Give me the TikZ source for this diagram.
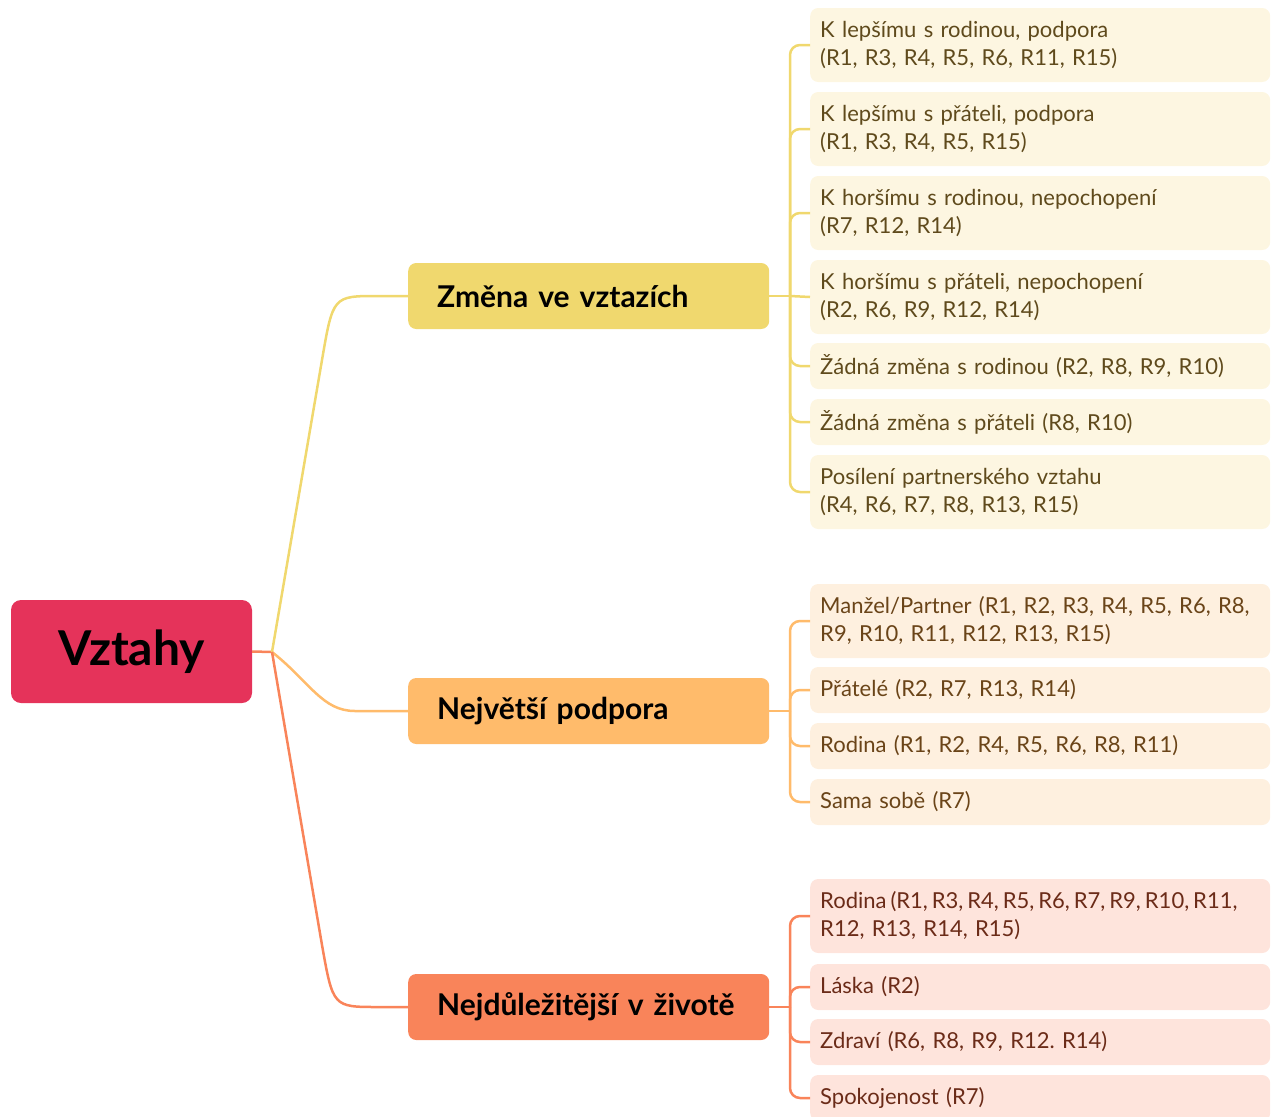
\documentclass[tikz,border=0pt]{standalone}
\usepackage{fontspec}
\setmainfont{Lato}
\frenchspacing
\definecolor{rootfill}{HTML}{E5335A}
\definecolor{yel}{HTML}{F0D86E}
\definecolor{yelleaf}{HTML}{FDF6E1}
\definecolor{yeltext}{HTML}{5F4A1C}
\definecolor{ora}{HTML}{FFBB6B}
\definecolor{oraleaf}{HTML}{FEF0DF}
\definecolor{oratext}{HTML}{6A4418}
\definecolor{redc}{HTML}{F9845A}
\definecolor{redleaf}{HTML}{FEE4DC}
\definecolor{redtext}{HTML}{6B2B18}
\begin{document}
\begin{tikzpicture}[x=1pt,y=-1pt,
  rootbox/.style={fill=rootfill, rounded corners=10pt, minimum width=241pt, minimum height=103pt,
    inner sep=0pt, font=\fontsize{48}{54}\selectfont\bfseries},
  topic/.style={anchor=west, rounded corners=8pt, text width=303pt, inner xsep=29pt, inner ysep=0pt,
    minimum height=66pt, align=left, font=\fontsize{30}{34}\selectfont\bfseries},
  leaf/.style={anchor=west, rounded corners=8pt, text width=440pt, inner xsep=10pt, inner ysep=0pt,
    align=left, font=\fontsize{22}{28}\selectfont},
  tall/.style={minimum height=74pt},
  short/.style={minimum height=46pt},
  leafA/.style={leaf, fill=yelleaf, text=yeltext},
  leafB/.style={leaf, fill=oraleaf, text=oratext},
  leafC/.style={leaf, fill=redleaf, text=redtext},
  conn/.style={line width=2.5pt},
  branch/.style={conn, rounded corners=10pt}
]
\useasboundingbox (0,0) rectangle (1278,1117);

% root and topics
\node[rootbox] (root) at (131.5,651.5) {Vztahy};
\node[topic, fill=yel] (t1) at (408,296) {Změna ve vztazích};
\node[topic, fill=ora] (t2) at (408,711) {Největší podpora};
\node[topic, fill=redc] (t3) at (408,1007) {Nejdůležitější v životě};

% leaves of the first topic
\node[leafA, tall]  (a1) at (810,45)  {K lepšímu s rodinou, podpora\\(R1, R3, R4, R5, R6, R11, R15)};
\node[leafA, tall]  (a2) at (810,129) {K lepšímu s přáteli, podpora\\(R1, R3, R4, R5, R15)};
\node[leafA, tall]  (a3) at (810,213) {K horšímu s rodinou, nepochopení\\(R7, R12, R14)};
\node[leafA, tall]  (a4) at (810,297) {K horšímu s přáteli, nepochopení\\(R2, R6, R9, R12, R14)};
\node[leafA, short] (a5) at (810,366) {Žádná změna s rodinou (R2, R8, R9, R10)};
\node[leafA, short] (a6) at (810,422) {Žádná změna s přáteli (R8, R10)};
\node[leafA, tall]  (a7) at (810,492) {Posílení partnerského vztahu\\(R4, R6, R7, R8, R13, R15)};

% leaves of the second topic
\node[leafB, tall]  (b1) at (810,621) {\mbox{Manžel/Partner (R1, R2, R3, R4, R5, R6, R8,}\\R9, R10, R11, R12, R13, R15)};
\node[leafB, short] (b2) at (810,690) {Přátelé (R2, R7, R13, R14)};
\node[leafB, short] (b3) at (810,746) {Rodina (R1, R2, R4, R5, R6, R8, R11)};
\node[leafB, short] (b4) at (810,802) {Sama sobě (R7)};

% leaves of the third topic (first line set with tighter word spaces)
\node[leafC, tall]  (c1) at (810,916)  {{\spaceskip=0.18em\mbox{Rodina (R1, R3, R4, R5, R6, R7, R9, R10, R11,}}\\R12, R13, R14, R15)};
\node[leafC, short] (c2) at (810,987)  {Láska (R2)};
\node[leafC, short] (c3) at (810,1042) {Zdraví (R6, R8, R9, R12. R14)};
\node[leafC, short] (c4) at (810,1098) {Spokojenost (R7)};

% connectors from the root
\coordinate (hub) at (272,652);
\draw[conn, redc] (root.east) -- (hub);
\draw[conn, yel] (hub) -- (322,360) .. controls (333,296) .. (378,296) -- (t1.west);
\draw[conn, ora] (hub) .. controls (310,682) and (322,711) .. (355,711) -- (t2.west);
\draw[conn, redc] (hub) -- (322,945) .. controls (333,1007) .. (378,1007) -- (t3.west);

% buses to the leaves
\coordinate (ja) at (790,296);
\coordinate (jb) at (790,711);
\coordinate (jc) at (790,1007);
\draw[conn, yel] (t1.east) -- (ja);
\draw[conn, ora] (t2.east) -- (jb);
\draw[conn, redc] (t3.east) -- (jc);
\foreach \n in {a1,a2,a3,a5,a6,a7} \draw[branch, yel] (ja) |- (\n.west);
\draw[conn, yel] (ja) -- (a4.west);
\foreach \n in {b1,b2,b3,b4} \draw[branch, ora] (jb) |- (\n.west);
\foreach \n in {c1,c2,c3,c4} \draw[branch, redc] (jc) |- (\n.west);
\end{tikzpicture}
\end{document}
